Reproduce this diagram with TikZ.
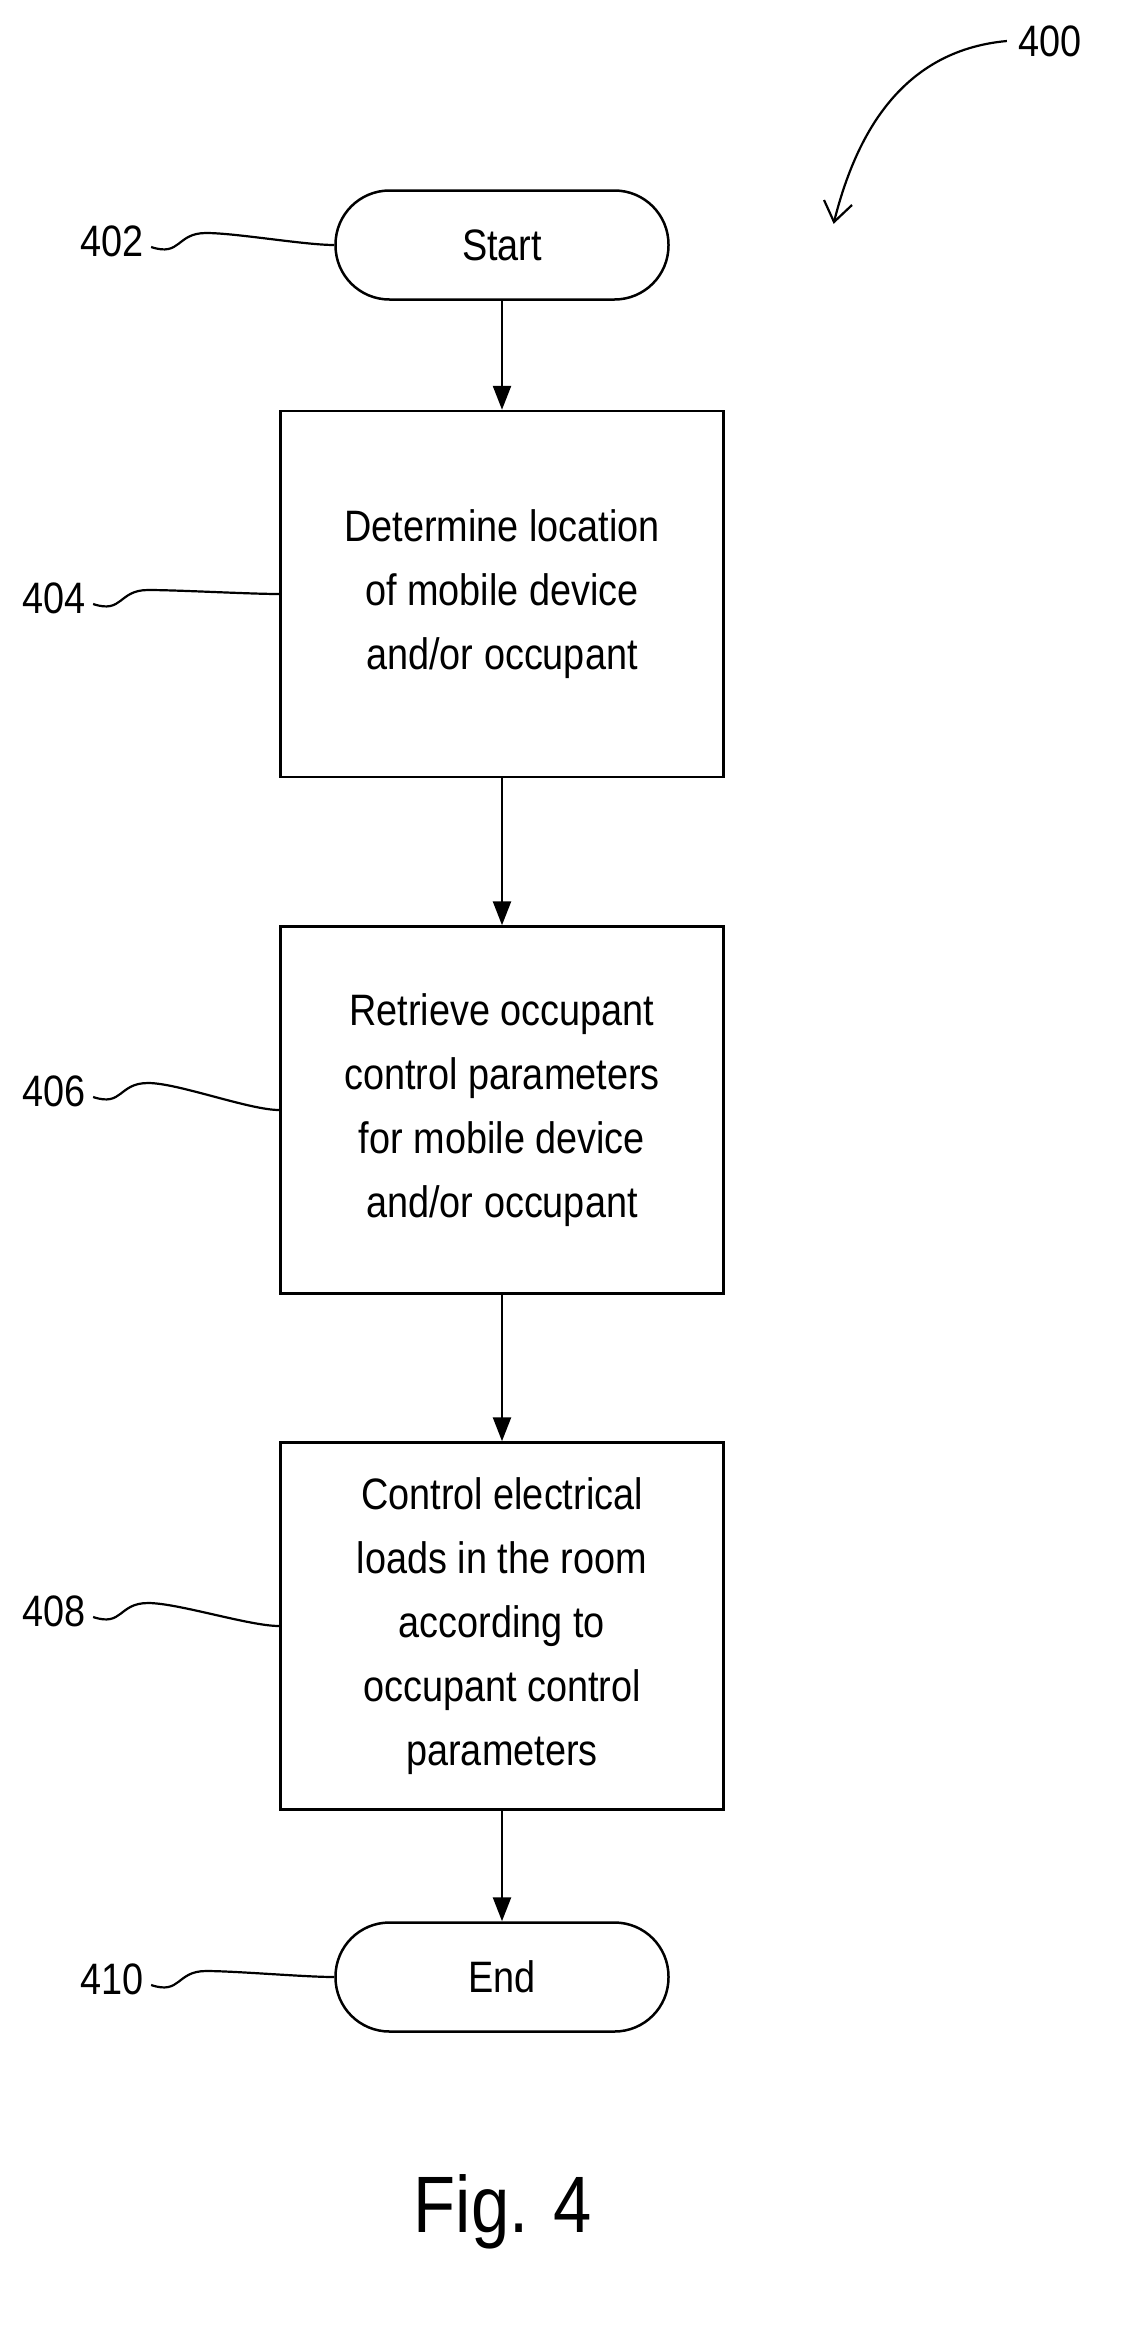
\documentclass[tikz,border=0pt]{standalone}
\usepackage{fontspec}
\setmainfont{Liberation Sans}[FakeStretch=0.86]
\usetikzlibrary{arrows.meta}
\begin{document}
\begin{tikzpicture}[x=1pt,y=-1pt,
  every node/.style={font=\fontsize{44}{64}\selectfont},
  box/.style={draw,line width=2.5pt,minimum width=443pt,align=center,inner sep=0pt},
  term/.style={draw,line width=2.5pt,rounded corners=54pt,minimum width=333pt,minimum height=109pt},
  ln/.style={line width=2.5pt},
  arr/.style={ln,-{Triangle[length=24pt,width=18pt]}},
  sq/.style={line width=2.2pt}]
\useasboundingbox (0,0) rectangle (1123,2327);
\node[term] (s) at (502,245) {Start};
\node[box,minimum height=366pt] (b1) at (502,594) {Determine location\\of mobile device\\and/or occupant};
\node[box,minimum height=367pt] (b2) at (502,1110) {Retrieve occupant\\control parameters\\for mobile device\\and/or occupant};
\node[box,minimum height=367pt] (b3) at (502,1626) {Control electrical\\loads in the room\\according to\\occupant control\\parameters};
\node[term] (e) at (502,1977) {End};
\draw[arr] (s) -- (b1);
\draw[arr] (b1) -- (b2);
\draw[arr] (b2) -- (b3);
\draw[arr] (b3) -- (e);
\node (l402) at (112,241) {402};
\node (l404) at (54,598) {404};
\node (l406) at (54,1091) {406};
\node (l408) at (54,1611) {408};
\node (l410) at (112,1979) {410};
\node (l400) at (1050,41) {400};
\foreach \l/\t in {l402/s,l404/b1,l406/b2,l408/b3,l410/e}{
  \draw[sq] (\l.east) ++(4,6) coordinate (a) .. controls +(30,10) and +(-30,0) .. ++(55,-14)
     .. controls +(30,0) and +(-30,0) .. (\t.west);
}
\draw[sq] (l400.west) ++(-8,0) .. controls +(-110,10) and +(20,-80) .. (834,222);
\draw[sq] (824,200) -- (834,222) -- (852,205);
\node[font=\fontsize{80}{90}\selectfont] (fig) at (503,2212) {Fig. 4};
\end{tikzpicture}
\end{document}
